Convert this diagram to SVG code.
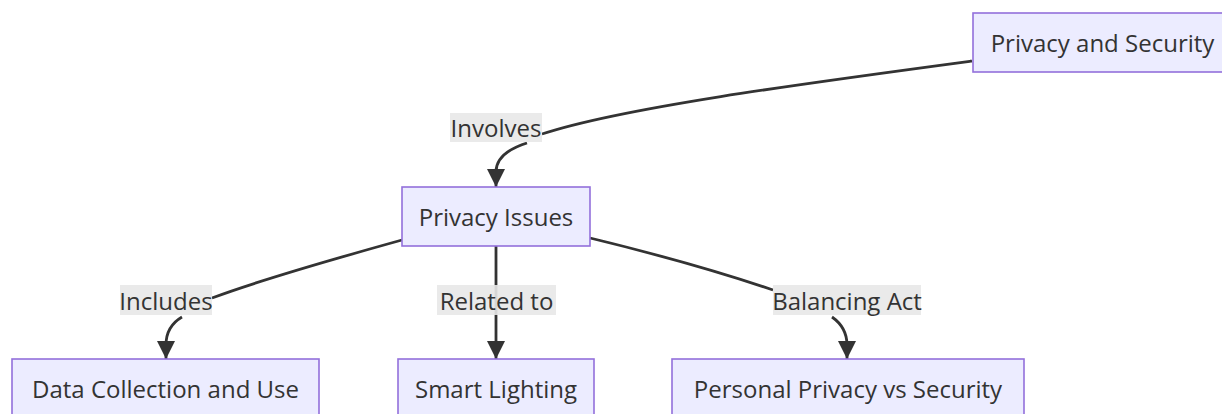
<svg xmlns="http://www.w3.org/2000/svg" width="1222" height="414" viewBox="0 0 1222 414">
<style>
.node rect{fill:#ECECFF;stroke:#9370DB;stroke-width:1.6}
.node text{font-family:"Open Sans","DejaVu Sans",sans-serif;font-size:24px;fill:#333;text-anchor:middle;dominant-baseline:central}
.edge{fill:none;stroke:#333;stroke-width:2.8}
.lbl rect{fill:#e8e8e8;opacity:0.9}
.lbl text{font-family:"Open Sans","DejaVu Sans",sans-serif;font-size:24px;fill:#333;text-anchor:middle;dominant-baseline:central}
</style>
<defs>
<marker id="arr" viewBox="0 0 10 10" refX="10" refY="5" markerWidth="18" markerHeight="18" markerUnits="userSpaceOnUse" orient="auto">
<path d="M0,0 L10,5 L0,10 z" fill="#333"/>
</marker>
</defs>
<rect width="1222" height="414" fill="#fff"/>
<g id="connectors">
<path class="edge" d="M972,61 C800,84 620,108 542,134"/>
<path class="edge" d="M527,143 C505,150 496,160 496,172 L496,187" marker-end="url(#arr)"/>
<path class="edge" d="M402,240 C330,260 260,280 212,298"/>
<path class="edge" d="M182,317 C170,324 166,333 166,345 L166,359" marker-end="url(#arr)"/>
<path class="edge" d="M496,246 L496,359" marker-end="url(#arr)"/>
<path class="edge" d="M590,238 C660,255 720,272 773,290"/>
<path class="edge" d="M832,317 C842,324 847,333 847,345 L847,359" marker-end="url(#arr)"/>
</g>
<g id="label-involves" class="lbl"><rect x="450" y="113" width="92" height="29"/><text x="496" y="127.5">Involves</text></g>
<g id="label-includes" class="lbl"><rect x="120" y="285" width="92" height="30"/><text x="166" y="300">Includes</text></g>
<g id="label-related" class="lbl"><rect x="437" y="285" width="119" height="30"/><text x="496.5" y="300">Related to</text></g>
<g id="label-balancing" class="lbl"><rect x="773" y="285" width="148" height="30"/><text x="847" y="300">Balancing Act</text></g>
<g id="node-privsec" class="node"><rect x="973" y="13" width="262" height="59"/><text x="1102.5" y="42.5">Privacy and Security</text></g>
<g id="node-issues" class="node"><rect x="402" y="187" width="188" height="59"/><text x="496" y="216.5">Privacy Issues</text></g>
<g id="node-data" class="node"><rect x="12" y="359" width="307" height="60"/><text x="165.5" y="388.5">Data Collection and Use</text></g>
<g id="node-lighting" class="node"><rect x="398" y="359" width="196" height="60"/><text x="496" y="388.5">Smart Lighting</text></g>
<g id="node-personal" class="node"><rect x="672" y="359" width="352" height="60"/><text x="848" y="388.5">Personal Privacy vs Security</text></g>
</svg>
